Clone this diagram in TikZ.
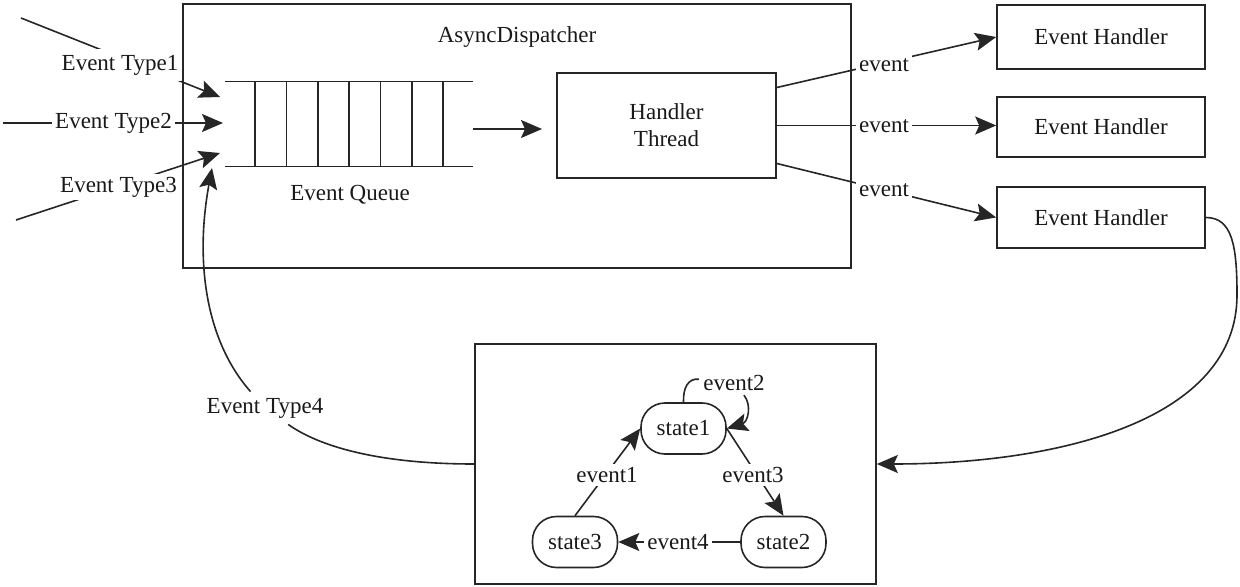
\documentclass[tikz,border=0pt]{standalone}
\usepackage{fontspec}
\setmainfont{Liberation Serif}
\usetikzlibrary{arrows.meta}
\begin{document}
\begin{tikzpicture}[x=0.5pt,y=-0.5pt,
  every node/.style={font=\fontsize{11.5}{13.5}\selectfont, text=black!90},
  box/.style={draw=black!85, line width=0.8pt, inner sep=0pt},
  stt/.style={draw=black!85, line width=0.8pt, rounded corners=12pt, minimum width=42.5pt, minimum height=25.5pt, inner sep=0pt},
  lbl/.style={fill=white, inner sep=1.5pt},
  conn/.style={draw=black!85, line width=0.8pt},
  arr/.style={conn, -{Stealth[length=10.5pt,width=9pt,inset=2pt]}}]
\useasboundingbox (0,0) rectangle (1240,587);

% AsyncDispatcher
\node[box, minimum width=334pt, minimum height=132pt] (disp) at (517,136) {};
\node (title) at (517,37) {AsyncDispatcher};
\node[minimum width=124pt, minimum height=42pt, inner sep=0pt] (queue) at (349,124) {};
\draw[conn] (queue.north west) -- (queue.north east) (queue.south west) -- (queue.south east);
\foreach \x in {255,286.3,317.7,349,380.3,411.7,443} \draw[conn] (\x,82) -- (\x,166);
\node (eq) at (350,195) {Event Queue};
\node[box, minimum width=109.5pt, minimum height=52.5pt, align=center] (ht) at (666.5,125.5) {Handler\\Thread};

% Event handlers
\node[box, minimum width=104pt, minimum height=32pt] (eh1) at (1101,37) {Event Handler};
\node[box, minimum width=104pt, minimum height=30pt] (eh2) at (1101,127) {Event Handler};
\node[box, minimum width=104pt, minimum height=30.5pt] (eh3) at (1101,217.5) {Event Handler};

% State machine
\node[box, minimum width=200.5pt, minimum height=120pt] (fsm) at (675.5,464) {};
\node[stt] (s1) at (683.5,428.5) {state1};
\node[stt] (s3) at (575,542) {state3};
\node[stt] (s2) at (783.5,542) {state2};

% free ends
\coordinate (in1) at (21,18);
\coordinate (q1) at (220,97);
\coordinate (in2) at (3,123);
\coordinate (q2) at (223,123);
\coordinate (in3) at (16,220);
\coordinate (q3) at (220,153);
\coordinate (q4) at (212,168);
\coordinate (qa) at (473,129);
\coordinate (qb) at (542,129);

% inputs
\draw[arr] (in1) -- (q1);
\draw[arr] (in2) -- (q2);
\draw[arr] (in3) -- (q3);
\node[lbl, inner ysep=3pt] (t1) at (120,65) {Event Type1};
\node[lbl] (t2) at (113.5,123) {Event Type2};
\node[lbl] (t3) at (118.5,187) {Event Type3};

\draw[arr] (qa) -- (qb);

% handler thread outputs
\draw[arr] (ht.19) -- (eh1.west);
\draw[arr] (ht.east) -- (ht.east -| eh2.west);
\draw[arr] (ht.-19) -- (eh3.west);
\node[lbl] (e1) at (884,65) {event};
\node[lbl] (e2) at (884,126) {event};
\node[lbl] (e3) at (884,190) {event};

% handler to state machine
\draw[arr] (eh3.east) .. controls (1232,217.5) and (1237,245) .. (1237,295)
  .. controls (1237,420) and (1060,464) .. (fsm.east);

% Event Type4 back to queue
\node[inner sep=3pt] (t4) at (265,408) {Event Type4};
\draw[conn] (fsm.west) .. controls (380,464) and (320,447) .. (t4);
\draw[arr] (t4) .. controls (205,340) and (195,260) .. (q4);

% state transitions
\draw[arr] (s3.north) -- (s1.west);
\draw[arr] (s1.east) -- (s2.north);
\draw[arr] (s2.west) -- (s3.east);
\node[lbl] (ev1) at (607,475) {event1};
\node[lbl] (ev3) at (753,475) {event3};
\node[lbl] (ev4) at (678,542) {event4};
\node[inner sep=2pt] (ev2) at (734,383) {event2};
\draw[conn] (s1.north) .. controls (683,388) and (688,378) .. (ev2);
\draw[arr] (ev2) .. controls (752,405) and (748,422) .. (s1.east);
\end{tikzpicture}
\end{document}
